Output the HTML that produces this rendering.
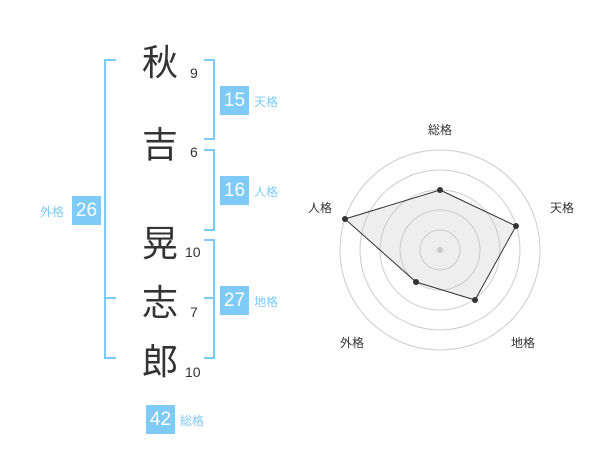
<!DOCTYPE html>
<html><head><meta charset="utf-8"><style>
body{margin:0;width:600px;height:470px;background:#fff;position:relative;overflow:hidden;font-family:"Liberation Sans","Noto Sans CJK JP",sans-serif}
.k{position:absolute;left:142px;font-size:36px;line-height:36px;color:#333;font-family:"Noto Sans CJK JP",sans-serif}
.n{position:absolute;font-size:14px;color:#333}
.b{position:absolute;width:29px;height:29px;background:#7ecbf7;color:#fff;font-size:19px;line-height:29px;text-align:center}
.l{position:absolute;font-size:12px;color:#7ecbf7;font-family:"Noto Sans CJK JP",sans-serif}
.r{position:absolute;font-size:12px;color:#333;font-family:"Noto Sans CJK JP",sans-serif}
</style></head><body>
<svg width="600" height="470" style="position:absolute;left:0;top:0">
<g stroke="#7ecbf7" stroke-width="2" fill="none">
<path d="M116 60H105V358H116M105 298H116"/>
<path d="M204 60H214V139H204M204 150H214V230H204M204 240H214V358H204M204 298H214"/>
</g>
<g stroke="#ccc" fill="none">
<circle cx="440" cy="250" r="20"/><circle cx="440" cy="250" r="40"/><circle cx="440" cy="250" r="60"/><circle cx="440" cy="250" r="80"/><circle cx="440" cy="250" r="100"/>
</g>
<circle cx="440" cy="250" r="3" fill="#ccc"/>
<polygon points="440,190 516,226 475,300 416,282 345,219" fill="rgba(200,200,200,0.3)" stroke="#333" stroke-width="1"/>
<g fill="#333"><circle cx="440" cy="190" r="3"/><circle cx="516" cy="226" r="3"/><circle cx="475" cy="300" r="3"/><circle cx="416" cy="282" r="3"/><circle cx="345" cy="219" r="3"/></g>
</svg>
<div class="k" style="top:42px">秋</div>
<div class="k" style="top:124px">吉</div>
<div class="k" style="top:223px">晃</div>
<div class="k" style="top:282px">志</div>
<div class="k" style="top:341px">郎</div>
<div class="n" style="left:190px;top:65px">9</div>
<div class="n" style="left:190px;top:144px">6</div>
<div class="n" style="left:185px;top:244px">10</div>
<div class="n" style="left:190px;top:304px">7</div>
<div class="n" style="left:185px;top:364px">10</div>
<div class="b" style="left:220px;top:86px">15</div><div class="l" style="left:254px;top:93px">天格</div>
<div class="b" style="left:220px;top:176px">16</div><div class="l" style="left:254px;top:183px">人格</div>
<div class="b" style="left:220px;top:286px">27</div><div class="l" style="left:254px;top:293px">地格</div>
<div class="b" style="left:72px;top:196px">26</div><div class="l" style="left:40px;top:203px">外格</div>
<div class="b" style="left:146px;top:405px">42</div><div class="l" style="left:180px;top:412px">総格</div>
<div class="r" style="left:428px;top:121px">総格</div>
<div class="r" style="left:550px;top:199px">天格</div>
<div class="r" style="left:308px;top:199px">人格</div>
<div class="r" style="left:340px;top:334px">外格</div>
<div class="r" style="left:511px;top:334px">地格</div>
</body></html>
